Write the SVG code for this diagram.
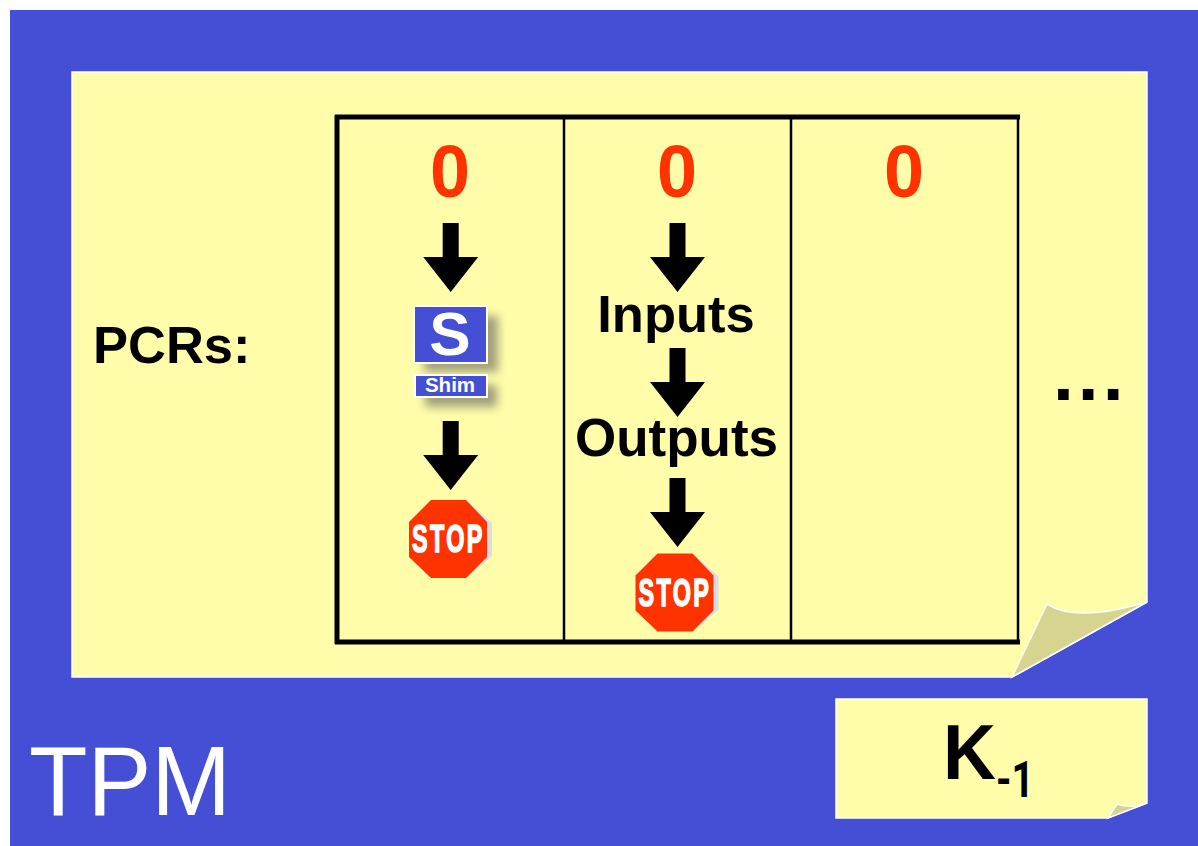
<svg xmlns="http://www.w3.org/2000/svg" width="1198" height="846" viewBox="0 0 1198 846">
<defs>
<style>
.t{font-family:"Liberation Sans",Arial,sans-serif;font-weight:700;fill:#000}
.z{font-family:"Liberation Sans",Arial,sans-serif;font-weight:700;fill:#ff3300;font-size:75px;text-anchor:middle}
.note{fill:#fffdaa;stroke:#fff;stroke-width:1.5}
.curl{fill:#d6d48f;stroke:#fff;stroke-width:1.5}
.stop{font-family:"Liberation Sans",Arial,sans-serif;font-weight:700;fill:#fff;font-size:39px;letter-spacing:4px;stroke:#fff;stroke-width:1.6}
.m{text-anchor:middle}
</style>
<path id="arrow" d="M-8 0H8V34H27.5L0 69L-27.5 34H-8Z" fill="#000"/>
<g id="stopsign">
<path d="M18 -39L44 -16V17L18 39Z" fill="#dcdce4"/>
<path d="M-17 -39H18L39 -17V18L18 39H-17L-39 18V-17Z" fill="#ff3300"/>
<text class="stop" transform="translate(-36 13) scale(.6 1)" x="0" y="0">STOP</text>
</g>
<filter id="sh" x="-40%" y="-60%" width="190%" height="240%"><feGaussianBlur stdDeviation="5"/></filter>
</defs>
<rect width="1198" height="846" fill="#fff"/>
<rect id="tpm-bg" x="10" y="10" width="1188" height="836" fill="#444fd6"/>
<g id="note-main">
<path class="note" d="M72 72H1147V602L1012 677H72Z"/>
<path class="curl" d="M1012 677L1047 604Q1075 622 1140 604L1147 602Z"/>
</g>
<g id="table" fill="none" stroke="#000">
<path d="M335 117H1020M335 642H1020M337 115V644" stroke-width="5"/>
<path d="M564 117V642M791 117V642M1018 117V642" stroke-width="2.5"/>
</g>
<g id="pcr-label"><text class="t" x="93" y="363" font-size="52.5">PCRs:</text></g>
<g id="zeros">
<text class="z" x="450" y="197" textLength="40" lengthAdjust="spacingAndGlyphs">0</text>
<text class="z" x="677" y="197" textLength="40" lengthAdjust="spacingAndGlyphs">0</text>
<text class="z" x="904" y="197" textLength="40" lengthAdjust="spacingAndGlyphs">0</text>
</g>
<g id="connectors">
<use href="#arrow" x="450.7" y="223"/>
<use href="#arrow" x="450.7" y="421"/>
<use href="#arrow" x="677.5" y="223"/>
<use href="#arrow" x="677.5" y="348"/>
<use href="#arrow" x="677.5" y="478"/>
</g>
<g id="shim">
<rect x="424" y="316" width="74" height="56" fill="#555" opacity=".55" filter="url(#sh)"/>
<rect x="425" y="385" width="72" height="22" fill="#555" opacity=".55" filter="url(#sh)"/>
<rect x="414" y="306" width="73" height="57" fill="#444fd6" stroke="#fff" stroke-width="2"/>
<text x="450" y="355" font-size="62" class="t m" style="fill:#fff">S</text>
<rect x="415" y="375" width="72" height="22" fill="#444fd6" stroke="#fff" stroke-width="2"/>
<text x="450" y="392" font-size="20.5" class="t m" style="fill:#fff">Shim</text>
</g>
<g id="stop-1"><use href="#stopsign" x="448" y="539"/></g>
<g id="stop-2"><use href="#stopsign" x="674.5" y="592.5"/></g>
<g id="inputs"><text class="t m" x="676" y="332" font-size="52.5">Inputs</text></g>
<g id="outputs"><text class="t m" x="676.5" y="456" font-size="53">Outputs</text></g>
<g id="ellipsis"><text class="t" x="1053" y="400" font-size="75" letter-spacing="4">...</text></g>
<g id="tpm-label"><text x="29" y="815" font-size="99" fill="#fff" font-family="'Liberation Sans',Arial,sans-serif" textLength="202" lengthAdjust="spacingAndGlyphs">TPM</text></g>
<g id="note-key">
<path class="note" d="M836 699H1147V803L1108 818H836Z"/>
<path class="curl" d="M1108 818L1117 804Q1125 807 1137 806L1147 803Z"/>
<text class="t" x="943" y="779" font-size="77" textLength="53" lengthAdjust="spacingAndGlyphs">K</text>
<text x="996" y="797" font-size="50" font-weight="700" font-family="Roboto,'Liberation Sans',sans-serif" textLength="38" lengthAdjust="spacingAndGlyphs">-1</text>
</g>
</svg>
